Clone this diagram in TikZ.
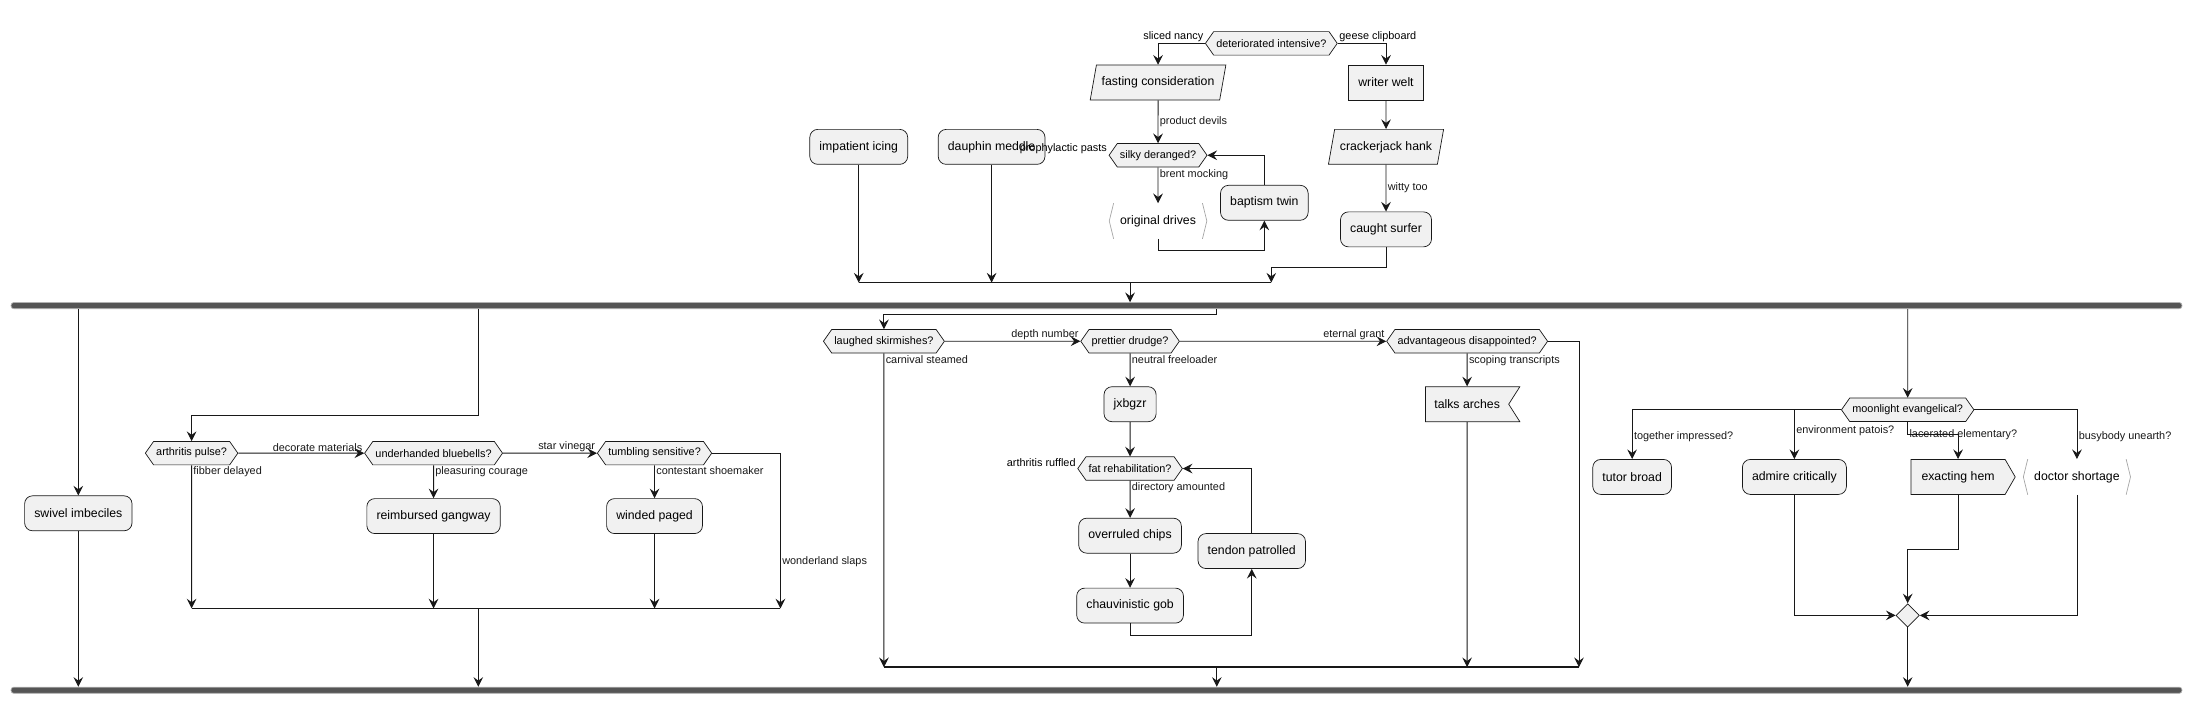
\documentclass[tikz,border=0pt]{standalone}
\usepackage{fontspec}
\setmainfont{Liberation Sans}
\usetikzlibrary{arrows.meta, shapes.geometric, shapes.symbols}

\definecolor{actfill}{HTML}{F1F1F1}
\definecolor{actline}{HTML}{181818}
\definecolor{barfill}{HTML}{555555}

\tikzset{
	flow/.style={-{Stealth[length=5.5pt,width=5.5pt,inset=2pt]}, line width=0.5pt, color=actline},
	joinline/.style={line width=0.9pt, color=actline},
	act/.style={rectangle, rounded corners=4.5pt, draw=actline, line width=0.4pt, fill=actfill, minimum height=0.7cm, inner xsep=5.5pt, font=\fontsize{7}{8}\selectfont},
	plainbox/.style={act, sharp corners},
	slanted/.style={act, sharp corners, trapezium, trapezium left angle=75, trapezium right angle=105, trapezium stretches=true, inner xsep=3pt},
	flagbox/.style={act, sharp corners, signal, signal to=nowhere, signal from=east, signal pointer angle=115, inner xsep=5pt},
	arrowbox/.style={act, sharp corners, signal, signal to=east, signal pointer angle=120, inner xsep=6pt},
	chevbox/.style={rectangle, minimum height=0.7cm, inner xsep=6pt, font=\fontsize{7}{8}\selectfont},
	chevline/.style={line width=0.4pt, color=black!35},
	dec/.style={signal, signal to=west and east, signal pointer angle=110, draw=actline, line width=0.4pt, fill=actfill, minimum height=0.47cm, inner xsep=1.5pt, inner ysep=0pt, font=\fontsize{6.2}{7}\selectfont},
	mergedia/.style={diamond, draw=actline, line width=0.4pt, fill=actfill, minimum size=0.47cm, inner sep=0pt},
	syncbar/.style={rectangle, rounded corners=1.5pt, fill=barfill, draw=black!30, line width=0.4pt, minimum width=43.46cm, minimum height=3.5pt, inner sep=0pt},
	lbl/.style={inner sep=0.8pt, font=\fontsize{6.2}{7}\selectfont},
}

\begin{document}
\begin{tikzpicture}[x=0.028cm, y=-0.028cm]
	\useasboundingbox (0,0) rectangle (1568,502.7);

	% top block
	\node[act] (impatient) at (614,105) {impatient icing};
	\node[act] (dauphin) at (709,105) {dauphin meddle};
	\node[dec] (deter) at (909,31) {deteriorated intensive?};
	\node[lbl, anchor=south east] at (deter.west) {sliced nancy};
	\node[lbl, anchor=south west] at (deter.east) {geese clipboard};
	\node[slanted] (fasting) at (828,59) {fasting consideration};
	\node[plainbox] (writer) at (991,59) {writer welt};
	\draw[flow] (deter.west) -| (fasting);
	\draw[flow] (deter.east) -| (writer);
	\node[dec] (silky) at (828,111) {silky deranged?};
	\node[lbl, anchor=south east] at (silky.west) {prophylactic pasts};
	\node[chevbox] (orig) at (828,158) {original drives};
	\node[act] (baptism) at (904,145) {baptism twin};
	\draw[flow] (fasting) -- node[lbl, right] {product devils} (silky);
	\draw[flow] (silky) -- node[lbl, anchor=north west, pos=0] {brent mocking} (orig);
	\draw[flow] (orig.south) -- ++(0,8) -| (baptism.south);
	\draw[flow] (baptism.north) |- (silky.east);
	\node[slanted] (cracker) at (991,105) {crackerjack hank};
	\node[act] (caught) at (991,164) {caught surfer};
	\draw[flow] (writer) -- (cracker);
	\draw[flow] (cracker) -- node[lbl, right] {witty too} (caught);
	\coordinate (topjoin) at (808,202);
	\coordinate (topjoinR) at (909,202);
	\draw[flow] (impatient) -- (impatient |- topjoin);
	\draw[flow] (dauphin) -- (dauphin |- topjoin);
	\draw[flow] (caught.south) -- ++(0,14.5) -| (topjoinR);
	\draw[joinline] (impatient |- topjoin) -- (topjoinR);

	\node[syncbar] (barA) at (784,218.5) {};
	\node[syncbar] (barB) at (784,493.5) {};
	\draw[flow] (topjoin) -- (topjoin |- barA.north);

	% left block
	\node[act] (swivel) at (56,367) {swivel imbeciles};
	\draw[flow] (barA.south -| swivel) -- (swivel);
	\draw[flow] (swivel) -- (swivel |- barB.north);
	\coordinate (forkL) at (342,297);
	\node[dec] (arth) at (137,324) {arthritis pulse?};
	\node[dec] (under) at (310,324) {underhanded bluebells?};
	\node[dec] (tumb) at (468,324) {tumbling sensitive?};
	\node[act] (reimb) at (310,369) {reimbursed gangway};
	\node[act] (winded) at (468,369) {winded paged};
	\coordinate (joinL) at (342,435);
	\coordinate (joinLR) at (558,435);
	\draw[flow] (barA.south -| forkL) -- (forkL) -| (arth);
	\draw[flow] (arth) -- node[lbl, anchor=south east, pos=1] {decorate materials} (under);
	\draw[flow] (under) -- node[lbl, anchor=south east, pos=1] {star vinegar} (tumb);
	\draw[flow] (arth) -- node[lbl, anchor=north west, pos=0] {fibber delayed} (arth |- joinL);
	\draw[flow] (under) -- node[lbl, anchor=north west, pos=0] {pleasuring courage} (reimb);
	\draw[flow] (tumb) -- node[lbl, anchor=north west, pos=0] {contestant shoemaker} (winded);
	\draw[flow] (tumb.east) -| node[lbl, right, pos=0.85] {wonderland slaps} (joinLR);
	\draw[flow] (reimb) -- (reimb |- joinL);
	\draw[flow] (winded) -- (winded |- joinL);
	\draw[joinline] (arth |- joinL) -- (joinLR);
	\draw[flow] (joinL) -- (joinL |- barB.north);

	% middle block
	\coordinate (forkM) at (870,225);
	\node[dec] (laugh) at (632,244) {laughed skirmishes?};
	\node[dec] (prettier) at (808,244) {prettier drudge?};
	\node[dec] (advant) at (1049,244) {advantageous disappointed?};
	\node[flagbox] (talks) at (1049,289) {talks arches};
	\node[act] (jx) at (808,289) {jxbgzr};
	\node[dec] (fat) at (808,335) {fat rehabilitation?};
	\node[lbl, anchor=south east] at (fat.west) {arthritis ruffled};
	\node[act] (overr) at (808,383) {overruled chips};
	\node[act] (chauv) at (808,433) {chauvinistic gob};
	\node[act] (tendon) at (895,394) {tendon patrolled};
	\coordinate (joinM) at (870,477);
	\coordinate (joinMR) at (1129,477);
	\draw[flow] (barA.south -| forkM) -- (forkM) -| (laugh);
	\draw[flow] (laugh) -- node[lbl, anchor=south east, pos=1] {depth number} (prettier);
	\draw[flow] (prettier) -- node[lbl, anchor=south east, pos=1] {eternal grant} (advant);
	\draw[flow] (advant.east) -| (joinMR);
	\draw[flow] (advant) -- node[lbl, anchor=north west, pos=0] {scoping transcripts} (talks);
	\draw[flow] (talks) -- (talks |- joinM);
	\draw[flow] (laugh) -- node[lbl, anchor=north west, pos=0] {carnival steamed} (laugh |- joinM);
	\draw[flow] (prettier) -- node[lbl, anchor=north west, pos=0] {neutral freeloader} (jx);
	\draw[flow] (jx) -- (fat);
	\draw[flow] (fat) -- node[lbl, anchor=north west, pos=0] {directory amounted} (overr);
	\draw[flow] (overr) -- (chauv);
	\draw[flow] (chauv.south) -- ++(0,8.5) -| (tendon.south);
	\draw[flow] (tendon.north) |- (fat.east);
	\draw[joinline] (laugh |- joinM) -- (joinMR);
	\draw[flow] (joinM) -- (joinM |- barB.north);

	% right block
	\node[dec] (moon) at (1364,293) {moonlight evangelical?};
	\node[act] (tutor) at (1167,341) {tutor broad};
	\node[act] (admire) at (1283,341) {admire critically};
	\node[arrowbox] (exact) at (1400,341) {exacting hem};
	\node[chevbox] (doctor) at (1485,341) {doctor shortage};
	\node[mergedia] (dia) at (1364,440) {};
	\draw[flow] (barA.south -| moon) -- (moon);
	\draw[flow] (moon.west) -| node[lbl, anchor=west, pos=0.77] {together impressed?} (tutor);
	\draw[flow] (moon.west) -| node[lbl, anchor=west, pos=0.71] {environment patois?} (admire);
	\draw[flow] (moon.south) -- ++(0,9) node[lbl, anchor=west] {lacerated elementary?} -| (exact);
	\draw[flow] (moon.east) -| node[lbl, anchor=west, pos=0.77] {busybody unearth?} (doctor);
	\draw[flow] (admire) |- (dia);
	\draw[flow] (doctor) |- (dia);
	\draw[flow] (exact.south) -- ++(0,39) -| (dia);
	\draw[flow] (dia) -- (dia |- barB.north);

	\foreach \n in {orig,doctor}
		\draw[chevline] ([xshift=2.5pt]\n.north west) -- (\n.west) -- ([xshift=2.5pt]\n.south west)
			([xshift=-2.5pt]\n.north east) -- (\n.east) -- ([xshift=-2.5pt]\n.south east);
\end{tikzpicture}
\end{document}
